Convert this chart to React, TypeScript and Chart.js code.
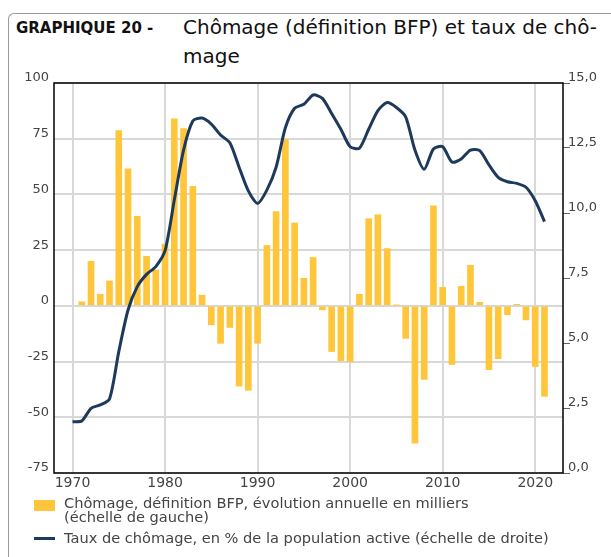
import React, { useEffect, useRef } from "react";
import { Chart, registerables } from "chart.js";

Chart.register(...registerables);

// Years of the bar series (annual change in unemployment, thousands)
const barYears = [
  1971, 1972, 1973, 1974, 1975, 1976, 1977, 1978, 1979, 1980,
  1981, 1982, 1983, 1984, 1985, 1986, 1987, 1988, 1989, 1990,
  1991, 1992, 1993, 1994, 1995, 1996, 1997, 1998, 1999, 2000,
  2001, 2002, 2003, 2004, 2005, 2006, 2007, 2008, 2009, 2010,
  2011, 2012, 2013, 2014, 2015, 2016, 2017, 2018, 2019, 2020, 2021,
];
const barValues = [
  1.8, 20, 5.2, 11.2, 78.6, 61.5, 40.2, 22.2, 16.1, 27.7,
  83.9, 79.5, 53.6, 4.8, -8.5, -16.8, -9.7, -36, -37.9, -16.8,
  27.1, 42.3, 74.7, 37.2, 12.4, 21.7, -1.8, -20.5, -24.6, -25.1,
  5.2, 39.1, 40.9, 25.7, 0.3, -14.6, -61.6, -33, 44.9, 8.3,
  -26.3, 8.8, 18.2, 1.6, -28.6, -23.7, -4.0, 0.7, -6.3, -27.2, -40.6,
];

// Unemployment rate, % of active population
const rateYears = [
  1970, 1971, 1972, 1973, 1974, 1975, 1976, 1977, 1978, 1979,
  1980, 1981, 1982, 1983, 1984, 1985, 1986, 1987, 1988, 1989,
  1990, 1991, 1992, 1993, 1994, 1995, 1996, 1997, 1998, 1999,
  2000, 2001, 2002, 2003, 2004, 2005, 2006, 2007, 2008, 2009,
  2010, 2011, 2012, 2013, 2014, 2015, 2016, 2017, 2018, 2019,
  2020, 2021,
];
const rateValues = [
  1.97, 2.0, 2.49, 2.62, 2.85, 4.67, 6.27, 7.17, 7.64, 7.94,
  8.55, 10.5, 12.42, 13.54, 13.65, 13.42, 13.0, 12.7, 11.76, 10.85,
  10.37, 10.88, 11.76, 13.28, 14.03, 14.18, 14.54, 14.41, 13.83, 13.22,
  12.55, 12.49, 13.22, 13.94, 14.25, 14.06, 13.7, 12.42, 11.68, 12.46,
  12.55, 11.96, 12.08, 12.42, 12.4, 11.85, 11.37, 11.2, 11.14, 10.99,
  10.47, 9.67,
];

const xTickValues = [1970, 1980, 1990, 2000, 2010, 2020];
const leftTicks = { min: -75, max: 100, step: 25 };
const rightTicks = { min: 0, max: 15, step: 2.5 };
const xRange = { min: 1968, max: 2023 };

const barLabel = "Chômage, définition BFP, évolution annuelle en milliers";
const barLabel2 = "(échelle de gauche)";
const lineLabel = "Taux de chômage, en % de la population active (échelle de droite)";

const BAR_COLOR = "#ffc63b";
const LINE_COLOR = "#1e3a5a";
const FONT = "'DejaVu Sans', sans-serif";

const framePlugin = {
  id: "frame",
  afterDraw(chart: any) {
    const { ctx, chartArea } = chart;
    ctx.save();
    ctx.strokeStyle = "#000";
    ctx.lineWidth = 1.5;
    ctx.strokeRect(chartArea.left, chartArea.top, chartArea.right - chartArea.left, chartArea.bottom - chartArea.top);
    ctx.restore();
  },
};

export default function App() {
  const ref = useRef<HTMLCanvasElement | null>(null);

  useEffect(() => {
    if (!ref.current) return;
    const chart = new Chart(ref.current, {
      type: "bar",
      data: {
        datasets: [
          {
            type: "line",
            label: lineLabel,
            data: rateYears.map((x, i) => ({ x, y: rateValues[i] })),
            yAxisID: "y2",
            borderColor: LINE_COLOR,
            borderWidth: 3,
            pointRadius: 0,
            tension: 0.25,
            fill: false,
          } as any,
          {
            type: "bar",
            label: barLabel,
            data: barYears.map((x, i) => ({ x, y: barValues[i] })),
            yAxisID: "y",
            backgroundColor: BAR_COLOR,
            barThickness: 6,
          } as any,
        ],
      },
      options: {
        animation: false,
        responsive: false,
        layout: { padding: { top: 13, left: 0, right: 0, bottom: 0 } },
        plugins: { legend: { display: false }, tooltip: { enabled: false } },
        scales: {
          x: {
            type: "linear",
            offset: false,
            min: xRange.min,
            max: xRange.max,
            afterBuildTicks: (scale: any) => {
              scale.ticks = xTickValues.map((value) => ({ value }));
            },
            afterFit: (scale: any) => {
              scale.height = 22;
            },
            ticks: {
              callback: (v: any) => String(v),
              color: "#444",
              font: { family: FONT, size: 14 },
              padding: 2,
              maxRotation: 0,
              autoSkip: false,
            },
            grid: { color: "#d8d8d8", lineWidth: 2, drawTicks: false, offset: false },
            border: { display: false },
          },
          y: {
            type: "linear",
            position: "left",
            min: leftTicks.min,
            max: leftTicks.max,
            afterFit: (scale: any) => {
              scale.width = 54;
            },
            ticks: {
              stepSize: leftTicks.step,
              color: "#444",
              font: { family: FONT, size: 13 },
              padding: 5,
              labelOffset: -5,
            },
            grid: { color: "#d8d8d8", lineWidth: 2, drawTicks: false },
            border: { display: false },
          },
          y2: {
            type: "linear",
            position: "right",
            min: rightTicks.min,
            max: rightTicks.max,
            afterFit: (scale: any) => {
              scale.width = 48;
            },
            ticks: {
              stepSize: rightTicks.step,
              color: "#444",
              font: { family: FONT, size: 13 },
              padding: -2,
              labelOffset: -5,
              callback: (v: any) => Number(v).toFixed(1).replace(".", ","),
            },
            grid: { drawOnChartArea: false, drawTicks: true, tickLength: 7, color: "#666", lineWidth: 1 },
            border: { display: false },
          },
        },
      },
      plugins: [framePlugin],
    });
    return () => chart.destroy();
  }, []);

  return (
    <div style={{ position: "relative", width: 611, height: 557, overflow: "hidden", fontFamily: FONT }}>
      <style>{"body{margin:0;overflow:hidden}"}</style>
      <div
        style={{
          position: "absolute",
          left: 8,
          top: 13,
          width: 640,
          height: 600,
          borderTop: "1px solid #9a9a9a",
          borderLeft: "1px solid #9a9a9a",
          borderTopLeftRadius: 6,
          boxSizing: "border-box",
        }}
      />
      <div
        style={{
          position: "absolute",
          left: 16,
          top: 18,
          fontSize: 15,
          lineHeight: "20px",
          fontWeight: "bold",
          color: "#111",
          whiteSpace: "nowrap",
        }}
      >
        GRAPHIQUE 20 -
      </div>
      <div
        style={{
          position: "absolute",
          left: 183,
          top: 13,
          fontSize: 20,
          lineHeight: "29px",
          color: "#111",
          whiteSpace: "nowrap",
        }}
      >
        Chômage (définition BFP) et taux de chô-
        <br />
        mage
      </div>
      <canvas
        ref={ref}
        width={611}
        height={425}
        style={{ position: "absolute", left: 0, top: 70, width: 611, height: 425 }}
      />
      <div style={{ position: "absolute", left: 34, top: 500, width: 21, height: 11, background: BAR_COLOR }} />
      <div
        style={{
          position: "absolute",
          left: 64,
          top: 496,
          fontSize: 14.6,
          lineHeight: "13.5px",
          color: "#444",
          whiteSpace: "nowrap",
        }}
      >
        {barLabel}
        <br />
        {barLabel2}
      </div>
      <div style={{ position: "absolute", left: 34, top: 537, width: 21, height: 3, background: LINE_COLOR }} />
      <div
        style={{
          position: "absolute",
          left: 64,
          top: 529,
          fontSize: 14.6,
          lineHeight: "17px",
          color: "#444",
          whiteSpace: "nowrap",
        }}
      >
        {lineLabel}
      </div>
    </div>
  );
}
